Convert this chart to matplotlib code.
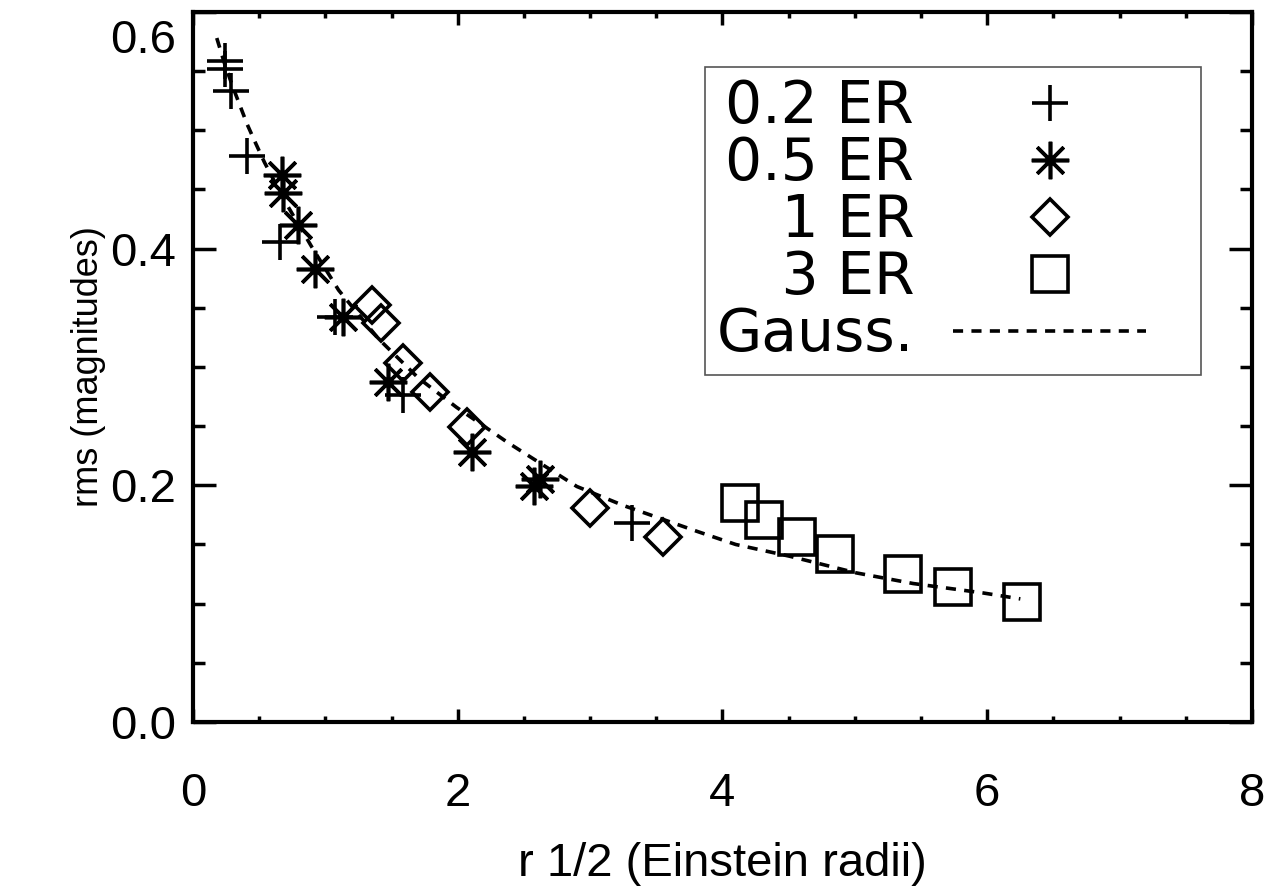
import matplotlib
matplotlib.use("Agg")
import matplotlib.pyplot as plt
from matplotlib.ticker import MultipleLocator, FormatStrFormatter
from matplotlib.legend_handler import HandlerLine2D
from matplotlib.lines import Line2D
from matplotlib.transforms import ScaledTranslation

# values
x_02 = [0.24, 0.24, 0.29, 0.41, 0.66, 1.07, 1.59, 3.32]
y_02 = [0.559, 0.552, 0.533, 0.478, 0.406, 0.342, 0.276, 0.168]

x_05 = [0.67, 0.68, 0.79, 0.92, 1.13, 1.47, 2.11, 2.58, 2.62]
y_05 = [0.462, 0.447, 0.420, 0.383, 0.342, 0.287, 0.228, 0.199, 0.205]

x_1 = [1.35, 1.42, 1.59, 1.79, 2.07, 3.00, 3.55]
y_1 = [0.352, 0.337, 0.303, 0.279, 0.249, 0.181, 0.156]

x_3 = [4.13, 4.31, 4.56, 4.85, 5.36, 5.74, 6.26]
y_3 = [0.185, 0.171, 0.156, 0.142, 0.125, 0.114, 0.101]

gauss_x = [0.18, 0.24, 0.30, 0.41, 0.47, 0.54, 0.70, 0.90, 1.10, 1.40, 1.70,
           1.99, 2.38, 2.90, 3.25, 3.81, 4.10, 4.51, 5.01, 5.44, 5.97, 6.25]
gauss_y = [0.578, 0.556, 0.537, 0.505, 0.490, 0.473, 0.439, 0.401, 0.365,
           0.324, 0.291, 0.266, 0.236, 0.199, 0.183, 0.161, 0.150, 0.140,
           0.126, 0.117, 0.109, 0.104]

labels = ["0.2 ER", "0.5 ER", "   1 ER", "   3 ER", "Gauss."]


class RightGapHandler(HandlerLine2D):
    # leaves an empty gap to the right of each legend handle
    def __init__(self, gap, **kw):
        super().__init__(**kw)
        self.gap = gap

    def create_artists(self, legend, orig_handle, xdescent, ydescent,
                       width, height, fontsize, trans):
        return super().create_artists(legend, orig_handle, xdescent, ydescent,
                                      width - self.gap * fontsize, height,
                                      fontsize, trans)


plt.rcParams['font.family'] = ['Liberation Sans', 'DejaVu Sans']

fig = plt.figure(figsize=(12.82, 8.89), dpi=100)
ax = fig.add_axes([0.1505, 0.1879, 0.8261, 0.7986])

mew = 2.6
asterisk = (8, 2, 0)
g, = ax.plot(gauss_x, gauss_y, color='k', lw=2.6, dashes=(2.8, 2.3), zorder=2)
p1, = ax.plot(x_02, y_02, ls='none', marker='+', ms=26, mew=mew, color='k')
p2, = ax.plot(x_05, y_05, ls='none', marker=asterisk, ms=27, mew=mew, color='k')
p3, = ax.plot(x_1, y_1, ls='none', marker='D', ms=18, mew=mew, mfc='none', mec='k')
p4, = ax.plot(x_3, y_3, ls='none', marker='s', ms=26, mew=mew, mfc='none', mec='k')

ax.set_xlim(0, 8)
ax.set_ylim(0, 0.6)
ax.xaxis.set_major_locator(MultipleLocator(2))
ax.xaxis.set_minor_locator(MultipleLocator(0.5))
ax.yaxis.set_major_locator(MultipleLocator(0.2))
ax.yaxis.set_minor_locator(MultipleLocator(0.05))
ax.xaxis.set_major_formatter(FormatStrFormatter('%d'))
ax.yaxis.set_major_formatter(FormatStrFormatter('%.1f'))

for s in ax.spines.values():
    s.set_linewidth(3)
ax.tick_params(which='both', direction='in', top=True, right=True, width=2.5, labelsize=34)
ax.tick_params(axis='x', which='major', length=9.5, pad=36)
ax.tick_params(axis='x', which='minor', length=4.5)
ax.tick_params(axis='y', which='major', length=16.5, pad=12)
ax.tick_params(axis='y', which='minor', length=8.5)

ax.set_xlabel("r 1/2 (Einstein radii)", fontsize=34, labelpad=19)
ax.set_ylabel("rms (magnitudes)", fontsize=26, labelpad=3)

leg = ax.legend([p1, p2, p3, p4, g], labels, loc='upper right',
                bbox_to_anchor=(0.952, 0.923), borderaxespad=0,
                fancybox=False, framealpha=1, edgecolor='#555555',
                markerfirst=False, handlelength=4.05, handletextpad=0.67,
                labelspacing=0.0, borderpad=0.2,
                handler_map={Line2D: RightGapHandler(0.74)},
                prop={'family': 'DejaVu Sans', 'size': 42})
leg.get_frame().set_linewidth(1.2)

# top y label sits a bit below its tick, as in the original
fig.canvas.draw()
shift = ScaledTranslation(0, -17 / 72, fig.dpi_scale_trans)
for tick in ax.yaxis.get_major_ticks():
    if tick.label1.get_text() == '0.6':
        tick.label1.set_transform(tick.label1.get_transform() + shift)

fig.savefig("out.png", dpi=100)
